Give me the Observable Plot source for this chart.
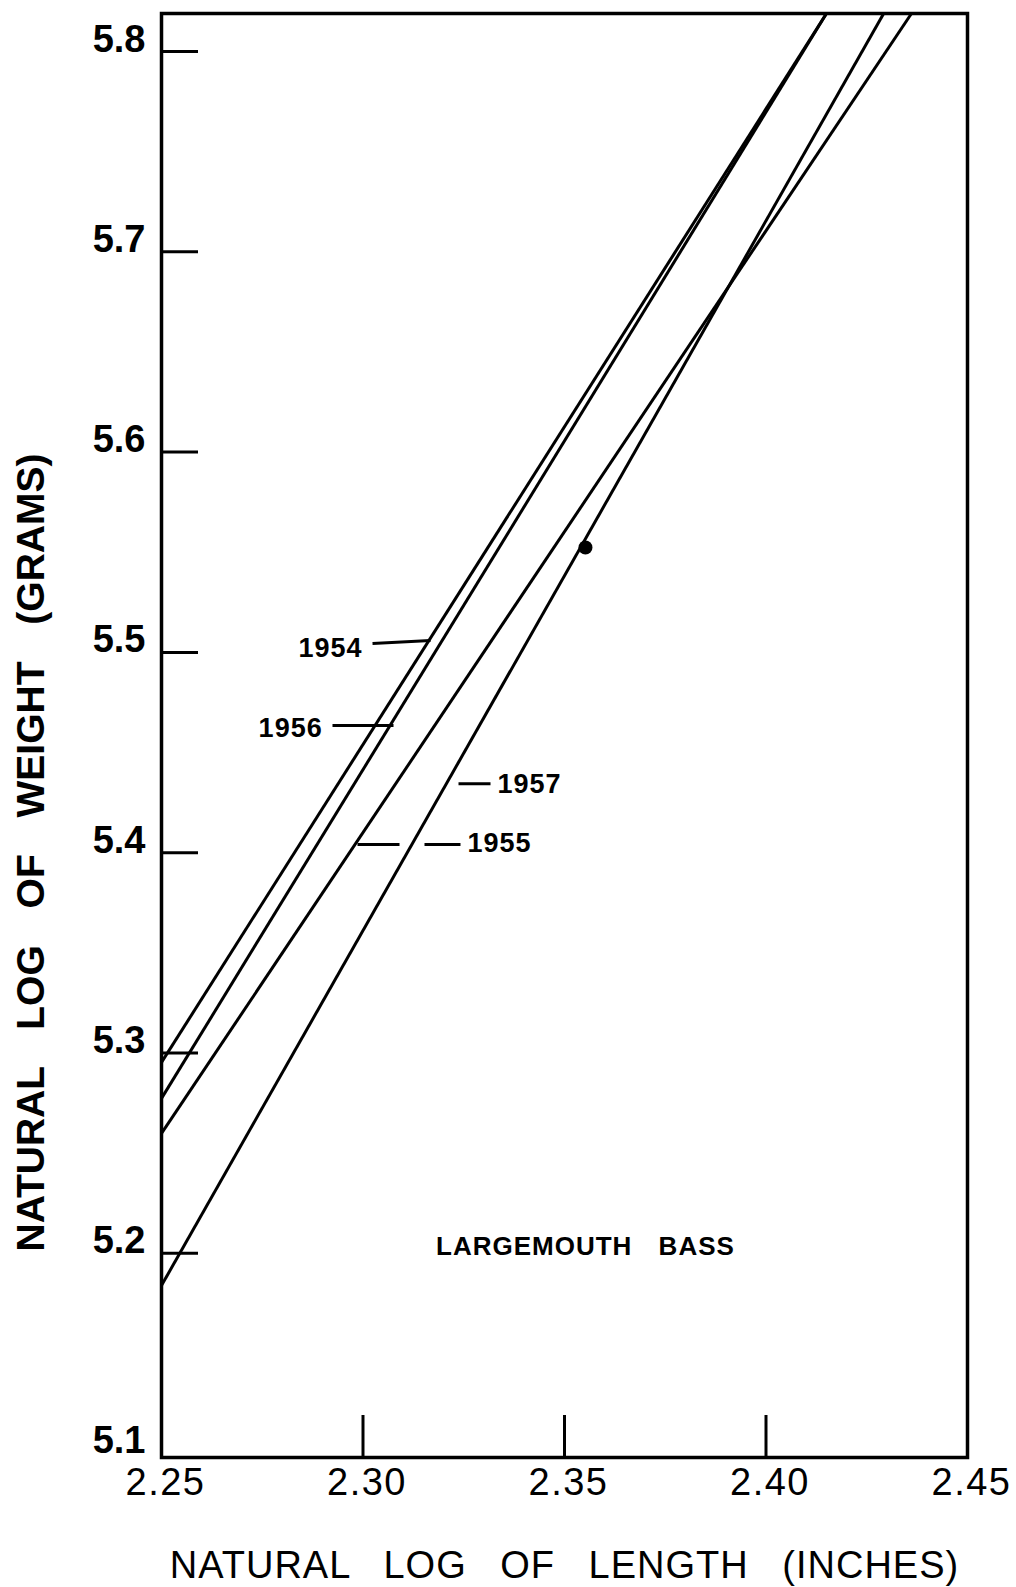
<!DOCTYPE html>
<html>
<head>
<meta charset="utf-8">
<script src="https://cdn.jsdelivr.net/npm/d3@7"></script>
<script src="https://cdn.jsdelivr.net/npm/@observablehq/plot@0.6"></script>
<style>
  body { margin: 0; background: #fff; }
  #chart svg { display: block; }
  g[aria-description="x-title"] text { letter-spacing: 1px; word-spacing: 22px; }
  g[aria-description="y-title"] text { letter-spacing: 0px; word-spacing: 26px; }
  g[aria-description="species"] text { letter-spacing: 1px; word-spacing: 18px; }
  g[aria-description="year-labels"] text { letter-spacing: 1px; }
  g[aria-description="x-tick-labels"] text { letter-spacing: 1.5px; }
</style>
</head>
<body>
<div id="chart"></div>
<script>
// Length-weight regression lines for largemouth bass, one per year (ln inches vs ln grams)
const years    = ["1954", "1955", "1956", "1957"];
const lenStart = [2.25, 2.25, 2.25, 2.25];
const wtStart  = [5.2953, 5.2598, 5.2773, 5.1839];
const lenEnd   = [2.4150, 2.4361, 2.4150, 2.4292];
const wtEnd    = [5.819, 5.819, 5.819, 5.819];

// Axis ticks
const xTickValues = [2.25, 2.30, 2.35, 2.40, 2.45];
const xInnerTicks = [2.30, 2.35, 2.40];
const yTickValues = [5.1, 5.2, 5.3, 5.4, 5.5, 5.6, 5.7, 5.8];
const yInnerTicks = [5.2, 5.3, 5.4, 5.5, 5.6, 5.7, 5.8];

// Year labels and their leader lines
const labelYear   = ["1954", "1956", "1957", "1955"];
const labelLen    = [2.29988, 2.2900, 2.33337, 2.32593];
const labelWt     = [5.50195, 5.4620, 5.4339, 5.4046];
const labelAnchor = ["end", "end", "start", "start"];

const leaderYear = ["1954", "1956", "1957", "1955", "1955"];
const leadLen1   = [2.30236, 2.29243, 2.32370, 2.29864, 2.31526];
const leadWt1    = [5.50444, 5.46351, 5.43435, 5.40410, 5.40410];
const leadLen2   = [2.31675, 2.30757, 2.33164, 2.30906, 2.32419];
const leadWt2    = [5.50594, 5.46351, 5.43435, 5.40410, 5.40410];

// Ink spot on the 1957 line
const blotLen = [2.3552];
const blotWt  = [5.5524];

const species = "LARGEMOUTH BASS";
const speciesLen = 2.3552;
const speciesWt = 5.199;

const xTitle = "NATURAL LOG OF LENGTH (INCHES)";
const yTitle = "NATURAL LOG OF WEIGHT (GRAMS)";

const lines = years.map((year, i) => ({year, x1: lenStart[i], y1: wtStart[i], x2: lenEnd[i], y2: wtEnd[i]}));
const labels = labelYear.map((t, i) => ({t, x: labelLen[i], y: labelWt[i], a: labelAnchor[i]}));
const leaders = leaderYear.map((year, i) => ({year, x1: leadLen1[i], y1: leadWt1[i], x2: leadLen2[i], y2: leadWt2[i]}));
const blot = blotLen.map((x, i) => ({x, y: blotWt[i]}));

const font = "'Liberation Sans', Arial, Helvetica, sans-serif";
const labelStyle = {x: "x", y: "y", text: "t", lineAnchor: "middle", fontSize: 27, fontWeight: "bold",
  fontFamily: font, fill: "#000", ariaDescription: "year-labels"};

const chart = Plot.plot({
  width: 1016,
  height: 1587,
  marginTop: 13,
  marginBottom: 130,
  marginLeft: 161,
  marginRight: 49,
  x: {domain: [2.25, 2.45]},
  y: {domain: [5.098, 5.819]},
  style: {fontFamily: font, color: "#000", background: "#fff"},
  marks: [
    Plot.frame({stroke: "#000", strokeWidth: 3.5}),
    // inward tick marks
    Plot.axisY(yInnerTicks, {anchor: "left", tickSize: -37, strokeWidth: 3, fill: "none", label: null}),
    Plot.axisX(xInnerTicks, {anchor: "bottom", tickSize: -42, strokeWidth: 3, fill: "none", label: null}),
    // tick labels
    Plot.axisY(yTickValues, {anchor: "left", tickSize: 0, tickPadding: 16, lineAnchor: "bottom",
      fontSize: 38, fontWeight: "bold", fontFamily: font, tickFormat: d3.format(".1f"), label: null}),
    Plot.axisX(xTickValues, {anchor: "bottom", tickSize: 0, tickPadding: 11, dx: 4,
      fontSize: 38, fontFamily: font, tickFormat: d3.format(".2f"), label: null, ariaDescription: "x-tick-labels"}),
    // regression lines
    Plot.link(lines, {x1: "x1", y1: "y1", x2: "x2", y2: "y2", stroke: "#000", strokeWidth: 3, strokeLinecap: "butt"}),
    // leaders and year labels
    Plot.link(leaders, {x1: "x1", y1: "y1", x2: "x2", y2: "y2", stroke: "#000", strokeWidth: 3}),
    Plot.text(labels, {...labelStyle, filter: d => d.a === "end", textAnchor: "end"}),
    Plot.text(labels, {...labelStyle, filter: d => d.a === "start", textAnchor: "start"}),
    Plot.dot(blot, {x: "x", y: "y", r: 7, fill: "#000", stroke: null}),
    // species label
    Plot.text([species], {x: speciesLen, y: speciesWt, text: d => d, lineAnchor: "bottom",
      fontSize: 26, fontWeight: "bold", fontFamily: font, fill: "#000", ariaDescription: "species"}),
    // axis titles
    Plot.text([xTitle], {frameAnchor: "bottom", text: d => d, dy: 120, lineAnchor: "bottom", textAnchor: "middle",
      fontSize: 38, fontFamily: font, fill: "#000", ariaDescription: "x-title"}),
    Plot.text([yTitle], {frameAnchor: "left", text: d => d, rotate: -90, dx: -130, dy: 117,
      lineAnchor: "middle", textAnchor: "middle",
      fontSize: 39, fontWeight: "bold", fontFamily: font, fill: "#000", ariaDescription: "y-title"})
  ]
});

document.getElementById("chart").appendChild(chart);
</script>
</body>
</html>
